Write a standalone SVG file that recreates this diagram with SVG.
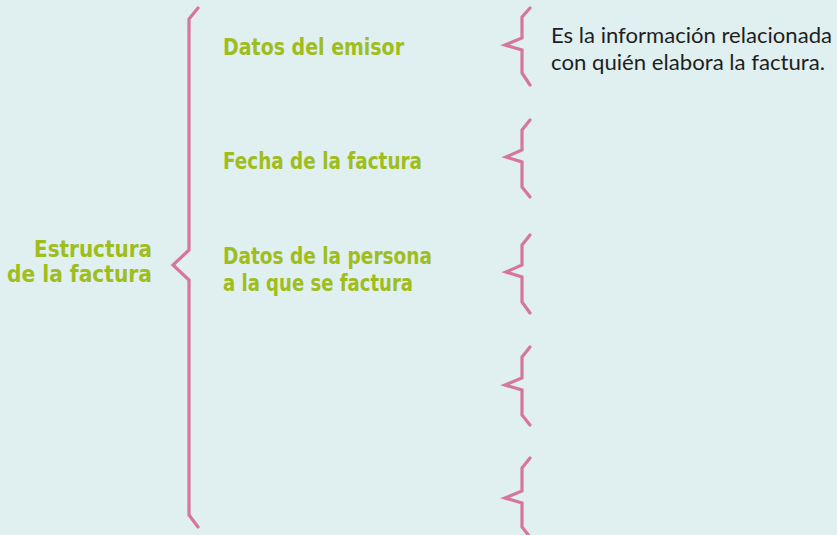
<svg xmlns="http://www.w3.org/2000/svg" width="837" height="535" viewBox="0 0 837 535">
<style>
.bg{fill:#e0efef}
.br{fill:none;stroke:#d6769d;stroke-width:3.2;stroke-linejoin:miter;stroke-linecap:round}
.g{font-family:"DejaVu Sans Condensed","DejaVu Sans",sans-serif;font-weight:bold;font-size:23px;fill:#9fbd1c}
.d{font-family:Lato,"Liberation Sans",sans-serif;font-size:21px;fill:#1e1e1e}
</style>
<rect class="bg" x="0" y="0" width="837" height="535"/>
<g id="connectors">
<path class="br" d="M198,8 L189,19 L189,250 L173,265 L189,280 L189,515 L198,527"/>
<path class="br" d="M530,8 L522,17 L522,38 L505,45 L522,50 L522,73 L530,85"/>
<path class="br" d="M530,120 L522,130 L522,150 L506,157 L522,162 L522,187 L530,197"/>
<path class="br" d="M530,235 L522,245 L522,265 L506,272 L522,277 L522,302 L530,313"/>
<path class="br" d="M530,347 L522,357 L522,378 L505,385 L522,390 L522,415 L530,425"/>
<path class="br" d="M530,458 L522,468 L522,491 L505,498 L522,503 L522,527 L530,537"/>
</g>
<g id="root">
<text class="g" x="152" y="257" text-anchor="end" textLength="118" lengthAdjust="spacingAndGlyphs">Estructura</text>
<text class="g" x="152" y="282" text-anchor="end" textLength="145" lengthAdjust="spacingAndGlyphs">de la factura</text>
</g>
<g id="emisor">
<text class="g" x="223" y="55" textLength="181" lengthAdjust="spacingAndGlyphs">Datos del emisor</text>
</g>
<g id="fecha">
<text class="g" x="223" y="169" textLength="199" lengthAdjust="spacingAndGlyphs">Fecha de la factura</text>
</g>
<g id="persona">
<text class="g" x="223" y="264" textLength="209" lengthAdjust="spacingAndGlyphs">Datos de la persona</text>
<text class="g" x="223" y="291" textLength="190" lengthAdjust="spacingAndGlyphs">a la que se factura</text>
</g>
<g id="desc-emisor">
<text class="d" x="551" y="43" textLength="281" lengthAdjust="spacingAndGlyphs">Es la información relacionada</text>
<text class="d" x="551" y="70" textLength="274" lengthAdjust="spacingAndGlyphs">con quién elabora la factura.</text>
</g>
</svg>
